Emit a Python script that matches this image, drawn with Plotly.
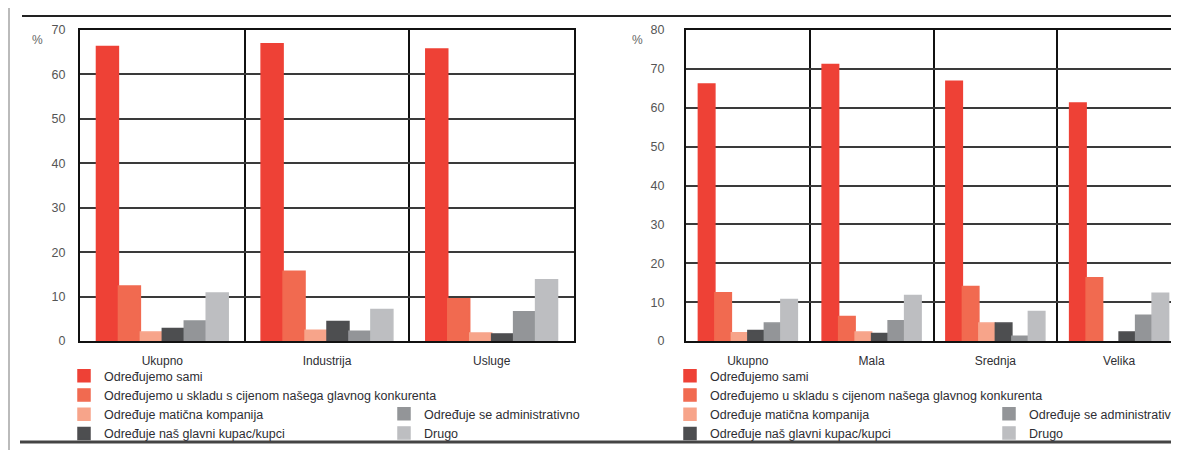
import plotly.graph_objects as go

# ---- data ----
series_names = [
    "Određujemo sami",
    "Određujemo u skladu s cijenom našega glavnog konkurenta",
    "Određuje matična kompanija",
    "Određuje naš glavni kupac/kupci",
    "Određuje se administrativno",
    "Drugo",
]
series_colors = ["#EE4136", "#F16A50", "#F7A48A", "#4D4E50", "#939598", "#BDBEC1"]

left_categories = ["Ukupno", "Industrija", "Usluge"]
left_sami = [66.3, 66.9, 65.7]
left_konkurent = [12.4, 15.7, 9.5]
left_maticna = [2.0, 2.4, 1.8]
left_kupac = [2.8, 4.4, 1.6]
left_admin = [4.5, 2.2, 6.6]
left_drugo = [10.8, 7.1, 13.8]

right_categories = ["Ukupno", "Mala", "Srednja", "Velika"]
right_sami = [66.1, 71.1, 66.8, 61.2]
right_konkurent = [12.4, 6.3, 14.0, 16.3]
right_maticna = [2.1, 2.3, 4.6, None]
right_kupac = [2.7, 1.9, 4.6, 2.3]
right_admin = [4.6, 5.2, 1.2, 6.6]
right_drugo = [10.7, 11.7, 7.6, 12.3]

left_ticks = [0, 10, 20, 30, 40, 50, 60, 70]
right_ticks = [0, 10, 20, 30, 40, 50, 60, 70, 80]

W, H = 1179, 450
OX, OY = 8, 8  # page body offset
FONT = "Liberation Sans, Arial, sans-serif"
TXT = "#2e2e33"

left_values = [left_sami, left_konkurent, left_maticna, left_kupac, left_admin, left_drugo]
right_values = [right_sami, right_konkurent, right_maticna, right_kupac, right_admin, right_drugo]

fig = go.Figure()

for i, (name, vals) in enumerate(zip(series_names, left_values)):
    fig.add_trace(go.Bar(
        x=left_categories, y=vals, name=name,
        marker=dict(color=series_colors[i], line=dict(width=1.5, color=series_colors[i])),
        xaxis="x", yaxis="y", legend="legend" if i < 4 else "legend2",
        offsetgroup=str(i), hoverinfo="skip",
    ))
for i, (name, vals) in enumerate(zip(series_names, right_values)):
    fig.add_trace(go.Bar(
        x=right_categories, y=vals, name=name,
        marker=dict(color=series_colors[i], line=dict(width=1.5, color=series_colors[i])),
        xaxis="x2", yaxis="y2", legend="legend3" if i < 4 else "legend4",
        offsetgroup=str(i), hoverinfo="skip",
    ))

def px_x(p):
    return (p - OX) / W

def px_y(p):
    return 1 - (p - OY) / H

grid_col = "#3a3a3a"
legend_font = dict(family=FONT, size=12.5, color=TXT)
leg_common = dict(font=legend_font, bgcolor="rgba(0,0,0,0)", borderwidth=0,
                  xanchor="left", yanchor="top", tracegroupgap=0, itemclick=False,
                  itemdoubleclick=False)
L_TOP = 361
ROW = 19

fig.update_layout(
    width=W, height=H,
    margin=dict(l=0, r=0, t=0, b=0, autoexpand=False),
    paper_bgcolor="white", plot_bgcolor="white",
    barmode="group", bargap=0.2, bargroupgap=0,
    font=dict(family=FONT, color=TXT),
    xaxis=dict(
        domain=[px_x(80), px_x(574)], anchor="y", type="category",
        categoryorder="array", categoryarray=left_categories,
        range=[-0.5, 2.5], tickson="boundaries", ticks="",
        showgrid=True, gridcolor="#111111", gridwidth=1.5,
        showline=True, linecolor="#111111", linewidth=2, mirror=True,
        tickfont=dict(family=FONT, size=12, color=TXT), ticklabelstandoff=8,
        fixedrange=True,
    ),
    yaxis=dict(
        domain=[px_y(341), px_y(30)], anchor="x",
        range=[0, 70], tickvals=left_ticks, ticks="",
        showgrid=True, gridcolor=grid_col, gridwidth=2,
        zeroline=False,
        showline=True, linecolor="#111111", linewidth=2, mirror=True,
        tickfont=dict(family=FONT, size=12.5, color="#555555"), ticklabelstandoff=10,
        fixedrange=True,
    ),
    xaxis2=dict(
        domain=[px_x(686), px_x(1181)], anchor="y2", type="category",
        categoryorder="array", categoryarray=right_categories,
        range=[-0.5, 3.5], tickson="boundaries", ticks="",
        showgrid=True, gridcolor="#111111", gridwidth=1.5,
        showline=True, linecolor="#111111", linewidth=2, mirror=True,
        tickfont=dict(family=FONT, size=12, color=TXT), ticklabelstandoff=8,
        fixedrange=True,
    ),
    yaxis2=dict(
        domain=[px_y(341), px_y(30)], anchor="x2",
        range=[0, 80], tickvals=right_ticks, ticks="",
        showgrid=True, gridcolor=grid_col, gridwidth=2,
        zeroline=False,
        showline=True, linecolor="#111111", linewidth=2, mirror=False,
        tickfont=dict(family=FONT, size=12.5, color="#555555"), ticklabelstandoff=17,
        fixedrange=True,
    ),
    legend=dict(x=px_x(64), y=px_y(L_TOP), **leg_common),
    legend2=dict(x=px_x(384), y=px_y(L_TOP + 2 * ROW), **leg_common),
    legend3=dict(x=px_x(670), y=px_y(L_TOP), **leg_common),
    legend4=dict(x=px_x(989), y=px_y(L_TOP + 2 * ROW), **leg_common),
    showlegend=True,
    annotations=[
        dict(text="%", x=px_x(30), y=px_y(31), xref="paper", yref="paper",
             showarrow=False, font=dict(family=FONT, size=12, color="#666666")),
        dict(text="%", x=px_x(637), y=px_y(31), xref="paper", yref="paper",
             showarrow=False, font=dict(family=FONT, size=12, color="#666666")),
    ],
    shapes=[
        dict(type="line", xref="paper", yref="paper", x0=px_x(22), x1=1.0,
             y0=px_y(16), y1=px_y(16), line=dict(color="#222222", width=2)),
        dict(type="line", xref="paper", yref="paper", x0=px_x(20), x1=1.0,
             y0=px_y(442), y1=px_y(442), line=dict(color="#444444", width=3)),
        dict(type="line", xref="paper", yref="paper", x0=px_x(9), x1=px_x(9),
             y0=px_y(8), y1=0, line=dict(color="#BBBBBB", width=2)),
    ],
)

fig.write_html("out.html")
